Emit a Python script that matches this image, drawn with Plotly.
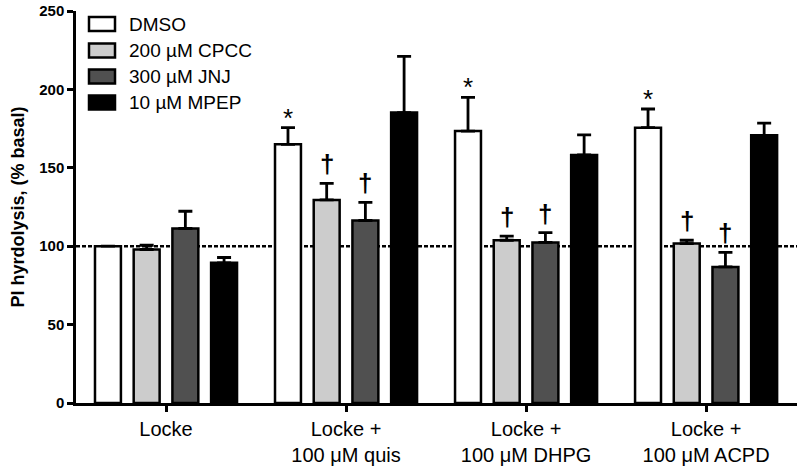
import plotly.graph_objects as go

# ---- data ----
groups = ["Locke", "Locke +<br>100 μM quis", "Locke +<br>100 μM DHPG", "Locke +<br>100 μM ACPD"]
series_names = ["DMSO", "200 µM CPCC", "300 µM JNJ", "10 µM MPEP"]
dmso = [100, 165, 173.4, 175.6]
cpcc = [97.9, 129.5, 103.8, 101.7]
jnj = [111.3, 116.4, 102.4, 86.8]
mpep = [89.4, 185.2, 158.2, 170.7]
dmso_err = [0, 10.6, 21.5, 11.9]
cpcc_err = [2.7, 10.6, 2.6, 2.1]
jnj_err = [11.0, 11.6, 6.3, 9.2]
mpep_err = [3.4, 35.8, 12.8, 7.8]
dmso_sig = ["", "*", "*", "*"]
cpcc_sig = ["", "†", "†", "†"]
jnj_sig = ["", "†", "†", "†"]
mpep_sig = ["", "", "", ""]
baseline = 100
y_ticks = [0, 50, 100, 150, 200, 250]

values = [dmso, cpcc, jnj, mpep]
errors = [dmso_err, cpcc_err, jnj_err, mpep_err]
sigs = [dmso_sig, cpcc_sig, jnj_sig, mpep_sig]
colors = ["#ffffff", "#cccccc", "#505050", "#000000"]

W, H = 800, 469
ML, MR, MT, MB = 76, 3, 11, 66
BARGAP, BARGROUPGAP = 0.14, 0.33
FONT = "Liberation Sans, Arial"

xpos = list(range(len(groups)))
fig = go.Figure()
for i, (name, vals, errs) in enumerate(zip(series_names, values, errors)):
    fig.add_trace(go.Bar(
        x=xpos, y=vals, name=name,
        marker=dict(color=colors[i], line=dict(color="black", width=2.5)),
        error_y=dict(type="data", array=errs, arrayminus=[0] * len(errs), symmetric=False,
                     color="black", thickness=2.8, width=7),
        showlegend=False,
    ))

# significance markers above the error bars
n = len(series_names)
slot = (1 - BARGAP) / n
for i in range(n):
    off = (i - (n - 1) / 2) * slot
    for g in range(len(groups)):
        s = sigs[i][g]
        if s:
            star = s == "*"
            fig.add_annotation(
                x=xpos[g] + off, y=values[i][g] + errors[i][g], xref="x", yref="y",
                text=s, showarrow=False, yanchor="bottom",
                yshift=(-7 if star else 2),
                font=dict(family=FONT, size=(26 if star else 26), color="black",
                          weight=("normal" if star else "bold")),
            )

# dotted baseline at 100%
fig.add_shape(type="line", xref="paper", yref="y", x0=0, x1=1, y0=baseline, y1=baseline,
              line=dict(color="black", width=2.5, dash="4px,2px"), layer="below")

# manual legend (pixel helpers to paper coords)
pw, ph = W - ML - MR, H - MT - MB
def px_x(p):
    return (p - ML) / pw
def px_y(p):
    return 1 - (p - MT) / ph

row_y = [24, 50.5, 76.5, 102.5]
for i, name in enumerate(series_names):
    cy = row_y[i]
    fig.add_shape(type="rect", xref="paper", yref="paper",
                  x0=px_x(89), x1=px_x(115), y0=px_y(cy - 7), y1=px_y(cy + 7),
                  fillcolor=colors[i], line=dict(color="black", width=2.5))
    fig.add_annotation(x=px_x(127), y=px_y(cy), xref="paper", yref="paper",
                       text=name, showarrow=False, xanchor="left", yanchor="middle",
                       font=dict(family=FONT, size=19, color="black"))

fig.update_layout(
    width=W, height=H,
    margin=dict(l=ML, r=MR, t=MT, b=MB, autoexpand=False),
    paper_bgcolor="white", plot_bgcolor="white",
    barmode="group", bargap=BARGAP, bargroupgap=BARGROUPGAP,
    font=dict(family=FONT, color="black"),
    xaxis=dict(
        range=[-0.5, 3.505], tickmode="array", tickvals=xpos, ticktext=groups,
        showline=True, linecolor="black", linewidth=2.5,
        ticks="outside", ticklen=6, tickwidth=2.5, tickcolor="black",
        showgrid=False, zeroline=False, automargin=False,
        tickfont=dict(size=20, family=FONT, color="black"),
    ),
    yaxis=dict(
        range=[0, 250], tickmode="array", tickvals=y_ticks,
        showline=True, linecolor="black", linewidth=2.5,
        ticks="outside", ticklen=6, tickwidth=2.5, tickcolor="black",
        showgrid=False, zeroline=False, automargin=False,
        tickfont=dict(size=15, family=FONT, color="black", weight="bold"),
        title=dict(text="PI hyrdolysis, (% basal)", standoff=10,
                   font=dict(size=18, family=FONT, color="black", weight="bold")),
    ),
)

fig.write_html("out.html", config={"displayModeBar": False},
               post_script="document.body.style.margin='0';document.body.style.overflow='hidden';")
